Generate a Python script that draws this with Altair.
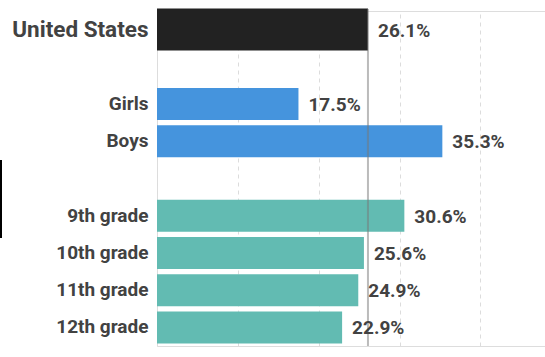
import altair as alt
import pandas as pd

categories = ["United States", "Girls", "Boys", "9th grade", "10th grade", "11th grade", "12th grade"]
values = [26.1, 17.5, 35.3, 30.6, 25.6, 24.9, 22.9]
groups = ["Total", "Sex", "Sex", "Grade", "Grade", "Grade", "Grade"]
row_order = ["United States", "gap1", "Girls", "Boys", "gap2",
             "9th grade", "10th grade", "11th grade", "12th grade"]
grid_values = [0, 10, 20, 30, 40]

df = pd.DataFrame({"category": categories, "value": values, "group": groups})
df["label"] = [f"{v:.1f}%" for v in values]

FONT = "Roboto"
TXT = "#424242"

y_enc = alt.Y(
    "category:N",
    sort=row_order,
    scale=alt.Scale(domain=row_order, paddingInner=0, paddingOuter=0),
    axis=alt.Axis(
        title=None, domain=False, ticks=False, labelPadding=9,
        labelExpr="indexof(datum.value, 'gap') == 0 ? '' : datum.value",
        labelFont=FONT, labelFontWeight="bold", labelColor=TXT,
        labelFontSize={"condition": {"test": "datum.value == 'United States'", "value": 22.5}, "value": 19},
        grid=False,
    ),
)
x_enc = alt.X(
    "value:Q",
    scale=alt.Scale(domain=[0, 48], nice=False),
    axis=alt.Axis(
        title=None, labels=False, ticks=False, domain=False,
        values=grid_values, grid=True, gridColor="#dcdcdc",
        gridDash=[4, 4], gridWidth=1,
    ),
)
color_enc = alt.Color(
    "group:N",
    scale=alt.Scale(domain=["Total", "Sex", "Grade"], range=["#222222", "#4594dd", "#62bbb2"]),
    legend=None,
)

base = alt.Chart(df)

bars_us = base.transform_filter("datum.category == 'United States'").mark_bar(size=42).encode(
    x=x_enc, y=y_enc, color=color_enc)
bars_rest = base.transform_filter("datum.category != 'United States'").mark_bar(size=32).encode(
    x="value:Q", y=alt.Y("category:N", sort=row_order), color=color_enc)

labels = base.mark_text(
    align="left", baseline="middle", dx=10, dy=1,
    font=FONT, fontWeight="bold", fontSize=19, color=TXT,
).encode(x="value:Q", y=alt.Y("category:N", sort=row_order), text="label:N")

avg_line = base.transform_filter("datum.category == 'United States'").mark_rule(
    color="#777777", strokeWidth=2, opacity=0.5,
).encode(x="value:Q", y=alt.value(-2), y2=alt.value(335))

edge_mark = base.transform_filter("datum.category == 'United States'").mark_rule(
    color="#000000", strokeWidth=2,
).encode(x=alt.value(-156), y=alt.value(149), y2=alt.value(227))

chart = alt.layer(bars_us, bars_rest, avg_line, labels, edge_mark).properties(
    width=388, height=335,
    padding={"left": 157, "top": 11, "right": 0, "bottom": 11},
    autosize=alt.AutoSizeParams(type="none"),
).configure_view(stroke=None).configure(background="white")

chart.save("out.html", embed_options={"renderer": "svg", "actions": False})
